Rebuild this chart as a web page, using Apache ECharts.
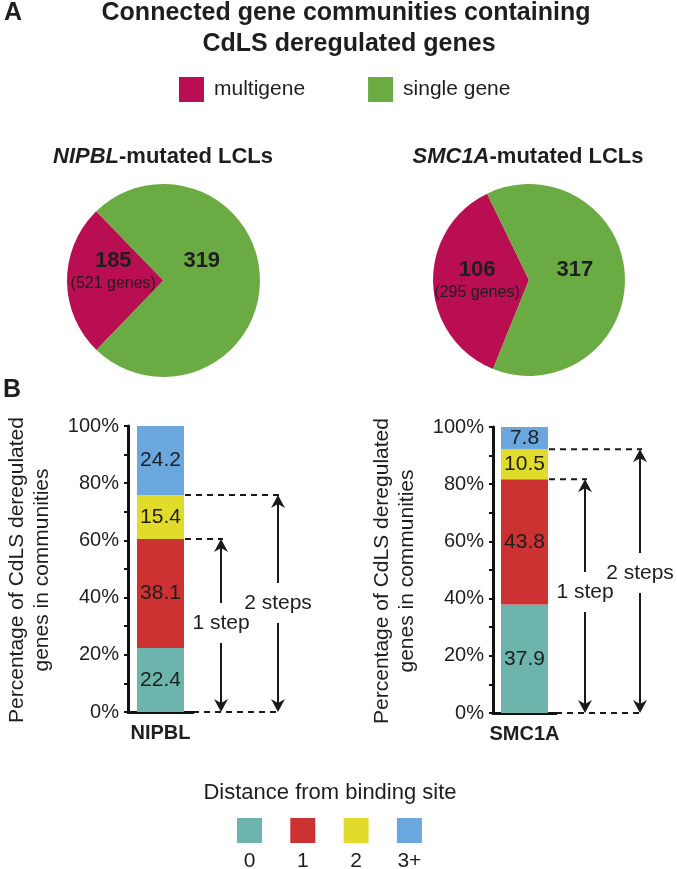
<!DOCTYPE html>
<html><head><meta charset="utf-8">
<script src="https://cdn.jsdelivr.net/npm/echarts@6/dist/echarts.min.js"></script>
<style>html,body{margin:0;padding:0;background:#fff}#c{width:677px;height:869px}</style>
</head><body><div id="c"></div>
<script>
// ---- data ----
const pieLegend = ['multigene', 'single gene'];
const nipblCommunities = [185, 319];
const nipblGenes = 521;
const smc1aCommunities = [106, 317];
const smc1aGenes = 295;
// wedge shares as drawn in the figure (percent of the circle)
const nipblWedgeShare = [25.5, 74.5];
const smc1aWedgeShare = [36.7, 63.3];

const barCategories = ['NIPBL', 'SMC1A'];
const distanceClasses = ['0', '1', '2', '3+'];
const nipblDistance = [22.4, 38.1, 15.4, 24.2];
const smc1aDistance = [37.9, 43.8, 10.5, 7.8];
const yTicks = [0, 20, 40, 60, 80, 100];

// ---- style ----
const FONT = 'Liberation Sans';
const INK = '#1e1e1e';
const pieColors = ['#B90E51', '#6BAB43'];
const distColors = ['#6DB4AC', '#CC3232', '#E1DC2B', '#69A7DE'];

const chart = echarts.init(document.getElementById('c'), null, {renderer: 'canvas'});

function yAxisCfg(gi) {
  return {
    type: 'value', gridIndex: gi, min: yTicks[0], max: yTicks[yTicks.length - 1],
    interval: yTicks[1] - yTicks[0],
    axisLine: {show: true, lineStyle: {color: '#111', width: 3}},
    axisTick: {show: true, length: 4, lineStyle: {color: '#111', width: 2}},
    minorTick: {show: true, splitNumber: 2, length: 4, lineStyle: {color: '#111', width: 2}},
    splitLine: {show: false},
    axisLabel: {formatter: '{value}%', fontSize: 20, color: INK, fontFamily: FONT, margin: 9}
  };
}
function xAxisCfg(gi) {
  return {
    type: 'category', gridIndex: gi, data: [barCategories[gi]],
    axisLine: {show: true, lineStyle: {color: '#111', width: 3}},
    axisTick: {show: false},
    axisLabel: {fontSize: 20, fontWeight: 'bold', color: INK, fontFamily: FONT, margin: 11}
  };
}

const series = [];
[nipblDistance, smc1aDistance].forEach((arr, gi) => {
  distanceClasses.forEach((d, i) => {
    series.push({
      type: 'bar', name: d, xAxisIndex: gi, yAxisIndex: gi, stack: 's' + gi,
      data: [arr[i]], barWidth: 47, silent: true,
      itemStyle: {color: distColors[i]},
      label: {show: true, position: 'inside', fontSize: 21, color: INK, fontFamily: FONT,
        formatter: p => p.value.toFixed(1)}
    });
  });
});

function pieSeries(center, r, startAngle, shares, counts, genes, shifts) {
  return {
    type: 'pie', center: center, radius: r, startAngle: startAngle, clockwise: true,
    avoidLabelOverlap: false, silent: true, minShowLabelAngle: 0,
    data: pieLegend.map((n, i) => ({name: n, value: shares[i], itemStyle: {color: pieColors[i]}})),
    label: {
      show: true, position: 'inside', fontFamily: FONT, color: INK,
      formatter: p => p.dataIndex === 0
        ? '{b|' + counts[0] + '}\n{n|(' + genes + ' genes)}'
        : '{b|' + counts[1] + '}',
      rich: {
        b: {fontSize: 22, fontWeight: 'bold', lineHeight: 24, color: INK, fontFamily: FONT},
        n: {fontSize: 16, lineHeight: 22, color: INK, fontFamily: FONT}
      }
    },
    labelLine: {show: false},
    labelLayout: p => shifts[p.dataIndex]
  };
}
series.push(pieSeries([163.5, 280.5], 96.5, 226, nipblWedgeShare, nipblCommunities, nipblGenes,
  [{dx: 0.5, dy: -4.5}, {dx: -6.5, dy: -9.5}]));
series.push(pieSeries([529, 280], 96, 248, smc1aWedgeShare, smc1aCommunities, smc1aGenes,
  [{dx: -0.5, dy: -0.5}, {dx: -2.5, dy: -4}]));

chart.setOption({
  animation: false,
  backgroundColor: '#fff',
  textStyle: {fontFamily: FONT},
  legend: {
    data: pieLegend, left: 179, top: 77, itemWidth: 25, itemHeight: 25, itemGap: 63,
    icon: 'rect', padding: 0, selectedMode: false,
    textStyle: {fontSize: 21, color: INK, fontFamily: FONT, padding: [0, 0, 0, 5]}
  },
  grid: [
    {left: 128, top: 426, width: 65, height: 286},
    {left: 493, top: 427, width: 63, height: 286}
  ],
  xAxis: [xAxisCfg(0), xAxisCfg(1)],
  yAxis: [yAxisCfg(0), yAxisCfg(1)],
  series: series
});

// ---- annotations drawn from the axis scales ----
function sumTo(arr, n) { let s = 0; for (let i = 0; i < n; i++) s += arr[i]; return s; }
const g = [];
function txt(x, y, text, size, weight, extra) {
  g.push(Object.assign({type: 'text', x: x, y: y, silent: true,
    style: {text: text, fontSize: size, fontWeight: weight || 'normal', fontFamily: FONT, fill: INK,
      textAlign: 'center', textVerticalAlign: 'middle'}}, extra || {}));
}
function line(x1, y1, x2, y2, dashed) {
  g.push({type: 'line', silent: true, shape: {x1: x1, y1: y1, x2: x2, y2: y2},
    style: {stroke: '#1a1a1a', lineWidth: 2, lineDash: dashed ? [6, 5] : null}});
}
function head(x, yTip, dir) { // dir -1 up, +1 down
  const h = 13 * -dir, n = 9 * -dir;
  g.push({type: 'polygon', silent: true,
    shape: {points: [[x, yTip], [x - 7, yTip + h], [x, yTip + n], [x + 7, yTip + h]]},
    style: {fill: '#1a1a1a'}});
}
function arrow(x, yTop, yBot, yLabel, label) {
  line(x, yTop + 8, x, yLabel - 20);
  line(x, yLabel + 20, x, yBot - 8);
  head(x, yTop, -1);
  head(x, yBot, 1);
  txt(x, yLabel, label, 21);
}

const panels = [
  {gi: 0, arr: nipblDistance, a1: 221, a2: 278, l1: 623, l2: 603, axEnd: 193, tx: [17, 42]},
  {gi: 1, arr: smc1aDistance, a1: 585, a2: 640, l1: 592, l2: 573, axEnd: 556, tx: [382, 407]}
];
panels.forEach(p => {
  const yp = v => chart.convertToPixel({yAxisIndex: p.gi}, v);
  const xc = chart.convertToPixel({xAxisIndex: p.gi}, 0);
  const barRight = xc + 47 / 2;
  const y0 = yp(0), y1 = yp(sumTo(p.arr, 2)), y2 = yp(sumTo(p.arr, 3));
  line(p.axEnd, y0, p.a2 + 2, y0, true);
  line(barRight + 1, y1, p.a1 + 2, y1, true);
  line(barRight + 1, y2, p.a2 + 2, y2, true);
  arrow(p.a1, y1, y0, p.l1, '1 step');
  arrow(p.a2, y2, y0, p.l2, '2 steps');
  const yc = (yp(0) + yp(100)) / 2 + 1;
  txt(p.tx[0], yc, 'Percentage of CdLS deregulated', 21, 'normal', {rotation: Math.PI / 2});
  txt(p.tx[1], yc, 'genes in communities', 21, 'normal', {rotation: Math.PI / 2});
});

// titles and panel letters
txt(13, 13, 'A', 25, 'bold');
txt(12, 390, 'B', 25, 'bold');
txt(346, 13, 'Connected gene communities containing', 25, 'bold');
txt(349, 44, 'CdLS deregulated genes', 25, 'bold');
function pieTitle(x, gene) {
  g.push({type: 'text', x: x, y: 157, silent: true,
    style: {text: '{i|' + gene + '}{n|-mutated LCLs}', textAlign: 'center', textVerticalAlign: 'middle',
      fill: INK, rich: {
        i: {fontSize: 22, fontWeight: 'bold', fontStyle: 'italic', fontFamily: FONT, fill: INK},
        n: {fontSize: 22, fontWeight: 'bold', fontFamily: FONT, fill: INK}
      }}});
}
pieTitle(163, barCategories[0]);
pieTitle(528, barCategories[1]);

// distance legend
txt(330, 793, 'Distance from binding site', 22);
distanceClasses.forEach((d, i) => {
  const x = 237 + i * 53.3;
  g.push({type: 'rect', silent: true, shape: {x: x, y: 818, width: 25, height: 25},
    style: {fill: distColors[i]}});
  txt(x + 12.5, 861, d, 21);
});

chart.setOption({graphic: g});
</script>
</body></html>
